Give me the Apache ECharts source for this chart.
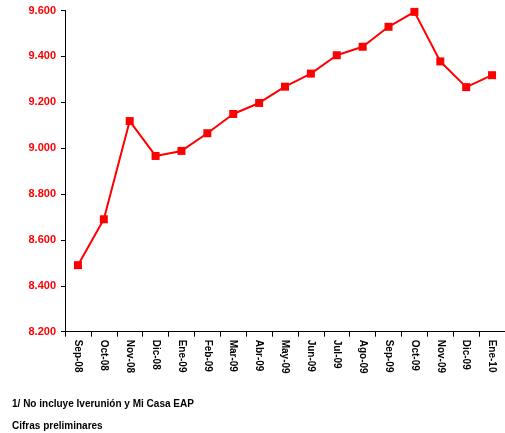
<!DOCTYPE html>
<html>
<head>
<meta charset="utf-8">
<script src="https://cdn.jsdelivr.net/npm/echarts@6/dist/echarts.min.js"></script>
<style>html,body{margin:0;padding:0;background:#fff}#c{width:505px;height:433px}</style>
</head>
<body>
<div id="c"></div>
<script>
const categories = ['Sep-08','Oct-08','Nov-08','Dic-08','Ene-09','Feb-09','Mar-09','Abr-09','May-09','Jun-09','Jul-09','Ago-09','Sep-09','Oct-09','Nov-09','Dic-09','Ene-10'];
const values = [8490, 8690, 9118, 8966, 8988, 9065, 9149, 9197, 9268, 9325, 9405, 9442, 9529, 9594, 9378, 9266, 9318];
const yTicks = { min: 8200, max: 9600, interval: 200 };
const notes = ['1/ No incluye Iverunión y Mi Casa EAP', 'Cifras preliminares'];

const chart = echarts.init(document.getElementById('c'));
const font = '"Liberation Sans", Arial, sans-serif';
chart.setOption({
  animation: false,
  backgroundColor: '#fff',
  grid: { left: 65, right: 0, top: 10.5, bottom: 101.3, containLabel: false },
  xAxis: {
    type: 'category',
    data: categories,
    boundaryGap: true,
    axisLine: { lineStyle: { color: '#000', width: 1 } },
    axisTick: { show: true, length: 5, lineStyle: { color: '#000' } },
    axisLabel: { rotate: -90, margin: 8, color: '#000', fontWeight: 'bold', fontSize: 10, fontFamily: font, interval: 0 }
  },
  yAxis: {
    type: 'value',
    min: yTicks.min, max: yTicks.max, interval: yTicks.interval,
    splitLine: { show: false },
    axisLine: { show: true, lineStyle: { color: '#000', width: 1 } },
    axisTick: { show: true, length: 4, lineStyle: { color: '#000' } },
    axisLabel: {
      margin: 9, color: '#ff0000', fontSize: 11, fontWeight: 'bold', fontFamily: font,
      formatter: v => { const s = String(v); return s.slice(0, 1) + '.' + s.slice(1); }
    }
  },
  series: [{
    type: 'line',
    data: values,
    symbol: 'rect',
    symbolSize: 8,
    lineStyle: { color: '#ff0000', width: 2 },
    itemStyle: { color: '#ff0000' }
  }],
  graphic: [
    { type: 'text', x: 12, y: 398, scaleX: 0.91, style: { text: notes[0], fill: '#000', font: 'bold 11px ' + font } },
    { type: 'text', x: 12, y: 420, scaleX: 0.91, style: { text: notes[1], fill: '#000', font: 'bold 11px ' + font } }
  ]
});
</script>
</body>
</html>
